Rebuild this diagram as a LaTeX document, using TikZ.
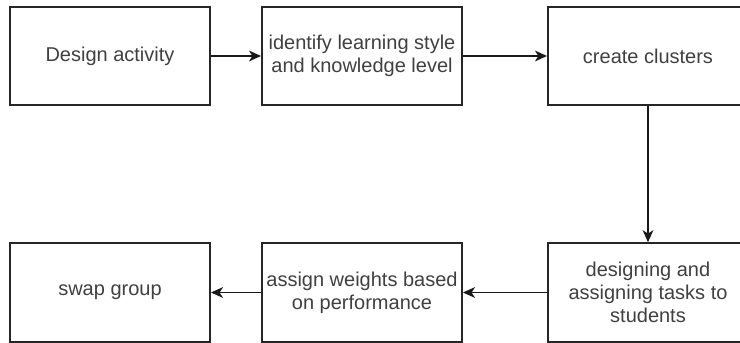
\documentclass[tikz,border=0pt]{standalone}
\usepackage{fontspec}
\setmainfont{Liberation Sans}
\usepackage{tikz}
\usetikzlibrary{positioning,arrows.meta}

\begin{document}
\begin{tikzpicture}[
  x=0.75pt, y=-0.75pt,
  font=\fontsize{15}{17.5}\selectfont,
  >={Stealth[length=9pt,width=8pt,inset=2.5pt]},
  stagebox/.style={rectangle, draw=black!85, line width=1.4pt, fill=white, text=black!75,
    minimum width=150pt, minimum height=74pt, align=center, inner sep=2pt},
  flowarr/.style={->, draw=black!90, line width=1.4pt}
]
  \useasboundingbox (0,0) rectangle (740,343);
  \node[stagebox] (dsgn)   at (110,56)    {Design activity};
  \node[stagebox] (ident)  at (362,56)    {identify learning style\\and knowledge level};
  \node[stagebox] (clust)  at (648,56)    {create clusters};
  \node[stagebox] (swap)   at (110,292.5) {swap group};
  \node[stagebox] (weight) at (362,292.5) {assign weights based\\on performance};
  \node[stagebox] (task)   at (648,292.5) {designing and\\assigning tasks to\\students};
  \draw[flowarr] (dsgn) -- (ident);
  \draw[flowarr] (ident) -- (clust);
  \draw[flowarr] (clust) -- (task);
  \draw[flowarr] (task) -- (weight);
  \draw[flowarr] (weight) -- (swap);
\end{tikzpicture}
\end{document}
